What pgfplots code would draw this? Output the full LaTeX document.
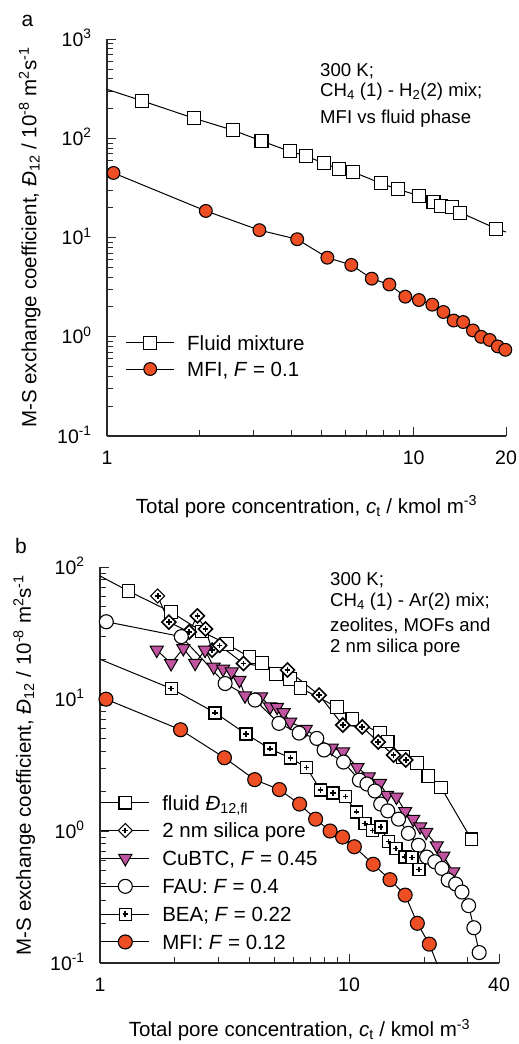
\documentclass[border=0pt]{standalone}
\usepackage{fontspec}
\setmainfont{Liberation Sans}
\usepackage{pgfplots}
\pgfplotsset{compat=1.18}
\definecolor{mfiorange}{RGB}{238,78,36}
\definecolor{cubtc}{RGB}{192,84,160}
\definecolor{axisgray}{RGB}{40,40,40}

\pgfdeclareplotmark{boxplus}{%
  \pgfpathrectangle{\pgfqpoint{-\pgfplotmarksize}{-\pgfplotmarksize}}{\pgfqpoint{2\pgfplotmarksize}{2\pgfplotmarksize}}%
  \pgfusepathqfillstroke
  \pgfsetlinewidth{1.6bp}%
  \pgfpathmoveto{\pgfqpoint{-0.45\pgfplotmarksize}{0pt}}%
  \pgfpathlineto{\pgfqpoint{0.45\pgfplotmarksize}{0pt}}%
  \pgfpathmoveto{\pgfqpoint{0pt}{-0.45\pgfplotmarksize}}%
  \pgfpathlineto{\pgfqpoint{0pt}{0.45\pgfplotmarksize}}%
  \pgfusepathqstroke
}
\pgfdeclareplotmark{diamondplus}{%
  \pgfpathmoveto{\pgfqpoint{0pt}{\pgfplotmarksize}}%
  \pgfpathlineto{\pgfqpoint{\pgfplotmarksize}{0pt}}%
  \pgfpathlineto{\pgfqpoint{0pt}{-\pgfplotmarksize}}%
  \pgfpathlineto{\pgfqpoint{-\pgfplotmarksize}{0pt}}%
  \pgfpathclose
  \pgfusepathqfillstroke
  \pgfsetlinewidth{1.6bp}%
  \pgfpathmoveto{\pgfqpoint{-0.4\pgfplotmarksize}{0pt}}%
  \pgfpathlineto{\pgfqpoint{0.4\pgfplotmarksize}{0pt}}%
  \pgfpathmoveto{\pgfqpoint{0pt}{-0.4\pgfplotmarksize}}%
  \pgfpathlineto{\pgfqpoint{0pt}{0.4\pgfplotmarksize}}%
  \pgfusepathqstroke
}

\pgfplotsset{
  legend image code/.code={\draw[mark repeat=2,mark phase=2,#1] plot coordinates {(0bp,0bp) (24bp,0bp) (48bp,0bp)};},
  every axis plot/.append style={line width=1bp, black},
  every axis/.append style={
    scale only axis,
    axis x line*=bottom, axis y line*=left,
    axis line style={-, line width=1.2bp, axisgray},
    tick style={line width=1bp, axisgray},
    major tick length=9.5bp, minor tick length=6.5bp,
    tick align=inside,
    label style={font=\fontsize{20.5bp}{24bp}\selectfont, inner sep=0pt},
    legend style={draw=none, fill=none, inner sep=0pt, outer sep=0pt,
      font=\fontsize{20.5bp}{24bp}\selectfont,
      nodes={inner sep=0pt, outer sep=0pt, text height=14.7bp, text depth=0pt},
      column sep=12.5bp},
    legend cell align=left,
  },
  every tick label/.append style={font=\fontsize{19.5bp}{22bp}\selectfont, text height=14bp, text depth=0pt, inner sep=0pt},
  every y tick label/.append style={anchor=east, xshift=-15.3bp},
  every x tick label/.append style={anchor=north, yshift=-14bp},
}
\newcommand{\ylab}{M-S exchange coefficient, \textit{Đ}\textsubscript{12} / 10\textsuperscript{-8} m\textsuperscript{2}s\textsuperscript{-1}}
\newcommand{\xlab}{Total pore concentration, \textit{c}\textsubscript{t} / kmol m\textsuperscript{-3}}

\begin{document}
\begin{tikzpicture}
\useasboundingbox (0,0) rectangle (519bp,-1044bp);

% ---------------- panel a ----------------
\begin{axis}[xmode=log, ymode=log,
  at={(107bp,-436bp)}, anchor=south west,
  width=399bp, height=396.7bp,
  xmin=1, xmax=20, ymin=0.1, ymax=1000,
  xtick={1,10,20}, xticklabels={1,10,20},
  minor xtick={2,3,4,5,6,7,8,9},
  ytick={0.1,1,10,100,1000},
  yticklabels={10\textsuperscript{-1},10\textsuperscript{0},10\textsuperscript{1},10\textsuperscript{2},10\textsuperscript{3}},
  minor ytick={0.2,0.3,0.4,0.5,0.6,0.7,0.8,0.9,2,3,4,5,6,7,8,9,20,30,40,50,60,70,80,90,200,300,400,500,600,700,800,900},
  xlabel={\xlab}, ylabel={\ylab},
  xlabel style={at={(axis description cs:0.5,-0.1949)}, anchor=base},
  ylabel style={at={(axis description cs:-0.1767,0.5)}, anchor=base},
  legend style={at={(rel axis cs:0.0469,0.2537)}, anchor=north west, row sep=11.6bp},
]
\addplot[forget plot] coordinates {(1,313) (1.30,240)};
\addplot[forget plot] coordinates {(18.6,12.3) (20,11.4)};
\addplot[mark=square*, mark size=6.5bp, mark options={solid, fill=white, line width=1.1bp}] coordinates {
(1.30,240) (1.92,160) (2.58,121) (3.19,94.4) (3.94,74.3) (4.45,66.7) (5.10,56.2) (5.72,49.0) (6.35,45.9) (7.82,35.3) (8.89,30.7) (10.4,26.5) (11.6,22.7) (12.3,21.0) (13.3,20.4) (14.2,17.9) (18.6,12.3)};
\addlegendentry{Fluid mixture}
\addplot[mark=*, mark size=6.4bp, mark options={solid, fill=mfiorange, line width=1.1bp}] coordinates {
(1.05,44.9) (2.10,18.6) (3.14,11.9) (4.17,9.64) (5.23,6.28) (6.26,5.31) (7.30,3.86) (8.33,3.37) (9.39,2.54) (10.4,2.35) (11.5,2.11) (12.5,1.78) (13.5,1.46) (14.5,1.41) (15.6,1.16) (16.6,1.00) (17.7,0.93) (18.8,0.80) (19.9,0.74)};
\addlegendentry{MFI, \textit{F} = 0.1}
\end{axis}

% ---------------- panel b ----------------
\begin{axis}[xmode=log, ymode=log,
  at={(100bp,-963bp)}, anchor=south west,
  width=399bp, height=396bp,
  xmin=1, xmax=40, ymin=0.1, ymax=100,
  xtick={1,10,40}, xticklabels={1,10,40},
  minor xtick={2,3,4,5,6,7,8,9,20,30},
  ytick={0.1,1,10,100},
  yticklabels={10\textsuperscript{-1},10\textsuperscript{0},10\textsuperscript{1},10\textsuperscript{2}},
  minor ytick={0.2,0.3,0.4,0.5,0.6,0.7,0.8,0.9,2,3,4,5,6,7,8,9,20,30,40,50,60,70,80,90},
  xlabel={\xlab}, ylabel={\ylab},
  xlabel style={at={(axis description cs:0.5,-0.1865)}, anchor=base},
  ylabel style={at={(axis description cs:-0.173,0.5)}, anchor=base},
  legend style={at={(rel axis cs:0.002,0.4234)}, anchor=north west, row sep=13.1bp},
]
\addplot[forget plot] coordinates {(1,85.5) (1.30,65.8)};
\addplot[forget plot] coordinates {(1,20.0) (1.93,12.0)};
\addplot[forget plot] coordinates {(21.0,0.139) (22.5,0.1) (23,0.092)};
\addplot[mark=square*, mark size=6.3bp, mark options={solid, fill=white, line width=1.1bp}] coordinates {
(1.30,65.8) (1.93,45.6) (2.57,32.4) (3.23,26.1) (3.98,20.8) (4.47,18.7) (5.09,15.5) (5.78,14.2) (6.39,12.1) (8.93,8.69) (10.3,7.05) (13.3,5.52) (14.3,4.76) (16.5,3.64) (18.7,3.27) (20.8,2.61) (23.4,2.14) (31.0,0.865)};
\addlegendentry{fluid \textit{Đ}\textsubscript{12,fl}}
\addplot[mark=diamondplus, mark size=7bp, mark options={solid, fill=white, line width=1.1bp}] coordinates {
(1.705,60.3) (1.89,38.3) (2.28,32.2) (2.46,42.6) (2.65,33.9) (2.82,23.5) (3.02,25.5) (3.77,18.6) (5.66,16.6) (7.59,10.7) (9.44,6.35) (11.3,6.14) (13.1,4.72) (15.1,3.76) (16.9,3.45)};
\addlegendentry{2 nm silica pore}
\addplot[mark=triangle*, mark size=7.6bp, mark options={solid, rotate=180, fill=cubtc, line width=1bp}] coordinates {
(1.69,23.5) (1.93,18.6) (2.16,24.2) (2.41,18.7) (2.64,23.5) (2.86,17.5) (3.12,16.9) (3.38,16.1) (3.63,13.9) (3.82,10.6) (4.43,10.4) (4.82,8.74) (5.14,8.69) (5.46,7.90) (5.80,6.70) (6.7,5.9) (8.52,4.26) (9.46,3.99) (10.8,3.03) (12.0,2.58) (13.3,2.30) (14.2,1.87) (15.5,1.81) (16.8,1.41) (18.1,1.23) (19.3,1.08) (20.4,0.98) (22.5,0.776) (23.9,0.647) (26.2,0.492)};
\addlegendentry{CuBTC, \textit{F} = 0.45}
\addplot[mark=*, mark size=7bp, mark options={solid, fill=white, line width=1.1bp}] coordinates {
(1.06,38.5) (2.12,29.7) (3.18,13.1) (4.19,9.82) (5.23,6.54) (6.30,5.52) (7.42,5.03) (7.94,4.11) (9.50,3.33) (11.0,2.43) (11.8,2.27) (12.7,2.01) (13.4,1.60) (14.3,1.42) (15.8,1.23) (17.3,0.96) (19.0,0.78) (20.5,0.635) (22.1,0.585) (23.6,0.521) (25.0,0.425) (26.8,0.397) (28.4,0.345) (30.2,0.272) (31.7,0.185) (33.3,0.120)};
\addlegendentry{FAU: \textit{F} = 0.4}
\addplot[mark=boxplus, mark size=6bp, mark options={solid, fill=white, line width=1.1bp}] coordinates {
(1.93,12.0) (2.90,7.87) (3.86,5.43) (4.81,4.20) (5.81,3.57) (6.76,3.02) (7.67,2.05) (8.62,1.94) (9.66,1.82) (10.7,1.40) (11.6,1.14) (12.4,1.01) (13.4,1.07) (14.4,0.83) (15.4,0.736) (16.8,0.638) (17.9,0.629) (19.1,0.511)};
\addlegendentry{BEA; \textit{F} = 0.22}
\addplot[mark=*, mark size=7bp, mark options={solid, fill=mfiorange, line width=1.1bp}] coordinates {
(1.057,9.97) (2.106,5.85) (3.16,3.59) (4.18,2.45) (5.25,2.06) (6.33,1.60) (7.34,1.23) (8.39,1.00) (9.42,0.90) (10.5,0.760) (12.5,0.560) (14.6,0.428) (16.8,0.327) (18.8,0.200) (21.0,0.139)};
\addlegendentry{MFI: \textit{F} = 0.12}
\end{axis}

% annotations
\begin{scope}[every node/.style={anchor=base west, inner sep=0pt, font=\fontsize{18.6bp}{22bp}\selectfont}]
\node at (320bp,-76bp) {300 K;};
\node at (320bp,-96.7bp) {CH\textsubscript{4} (1) - H\textsubscript{2}(2) mix;};
\node at (320bp,-123.3bp) {MFI vs fluid phase};
\node at (330bp,-585bp) {300 K;};
\node at (330bp,-606.7bp) {CH\textsubscript{4} (1) - Ar(2) mix;};
\node at (330bp,-631.7bp) {zeolites, MOFs and};
\node at (330bp,-652.7bp) {2 nm silica pore};
\end{scope}
\node[anchor=base west, inner sep=0pt, font=\fontsize{21bp}{24bp}\selectfont] at (21.5bp,-26bp) {a};
\node[anchor=base west, inner sep=0pt, font=\fontsize{21bp}{24bp}\selectfont] at (15bp,-553bp) {b};
\end{tikzpicture}
\end{document}
